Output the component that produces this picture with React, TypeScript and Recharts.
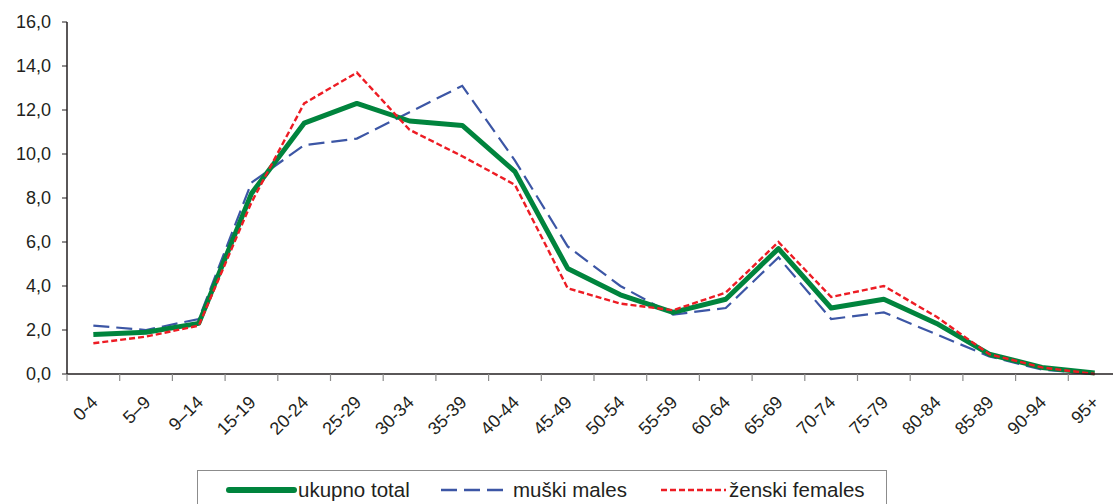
import React from 'react'
import { LineChart, Line, XAxis, YAxis } from 'recharts'

// starosne skupine / age groups
const ageGroups = [
  '0-4', '5–9', '9–14', '15-19', '20-24', '25-29', '30-34', '35-39', '40-44', '45-49',
  '50-54', '55-59', '60-64', '65-69', '70-74', '75-79', '80-84', '85-89', '90-94', '95+'
]

// ukupno total (%)
const totalValues = [1.8, 1.9, 2.3, 8.2, 11.4, 12.3, 11.5, 11.3, 9.2, 4.8, 3.6, 2.8, 3.4, 5.7, 3.0, 3.4, 2.3, 0.9, 0.3, 0.05]
// muški males (%)
const maleValues = [2.2, 2.0, 2.5, 8.7, 10.4, 10.7, 11.9, 13.1, 9.7, 5.8, 4.0, 2.7, 3.0, 5.3, 2.5, 2.8, 1.8, 0.8, 0.2, 0.0]
// ženski females (%)
const femaleValues = [1.4, 1.7, 2.2, 7.8, 12.3, 13.7, 11.1, 9.9, 8.6, 3.9, 3.2, 2.9, 3.7, 6.0, 3.5, 4.0, 2.6, 0.9, 0.3, 0.0]

const yTicks = [0, 2, 4, 6, 8, 10, 12, 14, 16]

const data = ageGroups.map((g, i) => ({
  grupa: g,
  ukupno: totalValues[i],
  muski: maleValues[i],
  zenski: femaleValues[i],
}))

const FONT = 'Arial, "Liberation Sans", sans-serif'
const GREEN = '#00843d'
const BLUE = '#3c56a5'
const RED = '#ed1c24'

const CHART_W = 1121
const Y_AXIS_W = 67
const BAND = (CHART_W - Y_AXIS_W) / ageGroups.length

// Excel-style tick: tick mark between categories, label rotated
const AgeTick = (props: any) => {
  const { x, y, payload } = props
  return (
    <g>
      <line x1={x - BAND / 2} y1={y - 8} x2={x - BAND / 2} y2={y - 1} stroke="#8c8c8c" strokeWidth={1.2} />
      <g transform={`translate(${x + 1}, ${y + 17}) rotate(-45)`}>
        <text x={0} y={0} textAnchor="end" fontSize={18} fontFamily={FONT} fill="#231f20" dy="0.35em">
          {payload.value}
        </text>
      </g>
    </g>
  )
}

export default function App() {
  return (
    <div style={{ position: 'absolute', left: 0, top: 0, width: 1113, height: 504, overflow: 'hidden', background: '#fff' }}>
      <LineChart width={CHART_W} height={504} data={data} margin={{ top: 22, right: 0, bottom: 0, left: 0 }}>
        <XAxis
          dataKey="grupa"
          interval={0}
          height={130}
          padding={{ left: BAND / 2, right: BAND / 2 }}
          tickLine={false}
          axisLine={{ stroke: '#231f20', strokeWidth: 1.5 }}
          tick={<AgeTick />}
        />
        <YAxis
          width={Y_AXIS_W}
          domain={[0, 16]}
          ticks={yTicks}
          tickSize={5}
          tickMargin={11}
          tickFormatter={(v: number) => v.toFixed(1).replace('.', ',')}
          tick={{ fontSize: 18, fontFamily: FONT, fill: '#231f20' }}
          tickLine={{ stroke: '#231f20' }}
          axisLine={{ stroke: '#231f20', strokeWidth: 1.5 }}
        />
        <Line dataKey="muski" name="muški males" stroke={BLUE} strokeWidth={2.2} strokeDasharray="16 7" dot={false} isAnimationActive={false} />
        <Line dataKey="ukupno" name="ukupno total" stroke={GREEN} strokeWidth={5} strokeLinejoin="round" dot={false} isAnimationActive={false} />
        <Line dataKey="zenski" name="ženski females" stroke={RED} strokeWidth={2.4} strokeDasharray="6 3" dot={false} isAnimationActive={false} />
      </LineChart>

      {/* legenda */}
      <div
        style={{
          position: 'absolute', left: 197, top: 470, width: 690, height: 60,
          border: '1px solid #8c8c8c', boxSizing: 'border-box',
        }}
      >
        <svg width={690} height={40} style={{ position: 'absolute', left: 0, top: 0 }}>
          <line x1={31} y1={19} x2={96} y2={19} stroke={GREEN} strokeWidth={6} strokeLinecap="round" />
          <text x={100} y={19} dy="0.35em" fontSize={20.5} fontFamily={FONT} fill="#231f20">ukupno total</text>
          <line x1={243} y1={19} x2={311} y2={19} stroke={BLUE} strokeWidth={2.5} strokeDasharray="16 7" />
          <text x={315} y={19} dy="0.35em" fontSize={20.5} fontFamily={FONT} fill="#231f20">muški males</text>
          <line x1={463} y1={19} x2={528} y2={19} stroke={RED} strokeWidth={2.5} strokeDasharray="6 3" />
          <text x={531} y={19} dy="0.35em" fontSize={20.5} fontFamily={FONT} fill="#231f20">ženski females</text>
        </svg>
      </div>
    </div>
  )
}
